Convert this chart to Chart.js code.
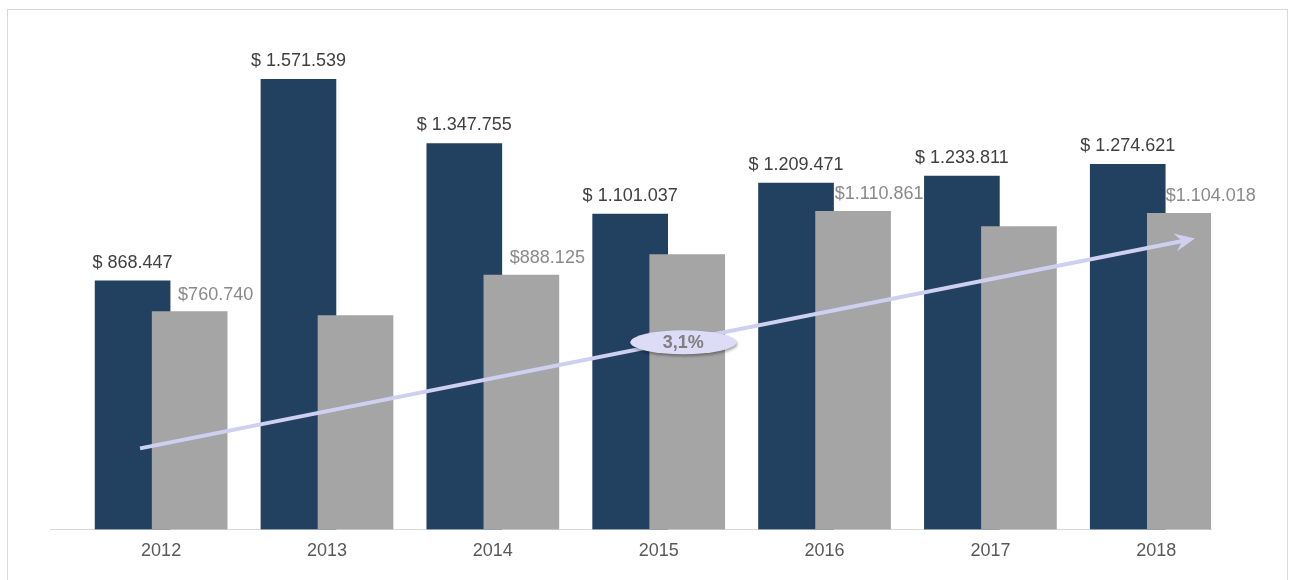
<!DOCTYPE html>
<html lang="es">
<head>
    <meta charset="UTF-8">
    <title>Ventas 2012 - 2018</title>
    <script src="https://cdn.jsdelivr.net/npm/chart.js"></script>
    <style>
        body {
            margin: 0;
            padding: 0;
            background-color: #fff;
            font-family: 'Liberation Sans', Arial, sans-serif;
        }

        .frame {
            position: absolute;
            left: 7px;
            top: 9px;
            width: 1279px;
            height: 575px;
            border: 1px solid #d9d9d9;
        }

        .chart-container {
            position: absolute;
            left: 0;
            top: 0;
            width: 1289px;
            height: 580px;
        }
    </style>
</head>
<body>
    <div class="frame"></div>
    <div class="chart-container">
        <canvas id="salesChart" width="1289" height="580"></canvas>
    </div>

    <script>
        const years = ['2012', '2013', '2014', '2015', '2016', '2017', '2018'];
        const darkValues = [868447, 1571539, 1347755, 1101037, 1209471, 1233811, 1274621];
        const grayValues = [760740, 747000, 888125, 960000, 1110861, 1058000, 1104018];
        const darkLabels = ['$ 868.447', '$ 1.571.539', '$ 1.347.755', '$ 1.101.037', '$ 1.209.471', '$ 1.233.811', '$ 1.274.621'];
        const grayLabels = ['$760.740', '', '$888.125', '', '$1.110.861', '', '$1.104.018'];

        // flecha de tendencia, en unidades del gráfico (índice de año, valor)
        const trendStart = [-0.127, 283000];
        const trendEnd = [6.233, 1016000];
        const trendText = '3,1%';

        const darkColor = '#22405f';
        const grayColor = '#a5a5a5';
        const arrowColor = '#cfcff2';
        const barShift = 0.172;   // las barras se solapan un poco

        const barLabels = {
            id: 'barLabels',
            afterDatasetsDraw(chart) {
                const ctx = chart.ctx;
                ctx.save();
                ctx.font = '18px "Liberation Sans", Arial, sans-serif';
                ctx.textAlign = 'center';
                ctx.textBaseline = 'middle';
                chart.getDatasetMeta(0).data.forEach((bar, i) => {
                    ctx.fillStyle = '#404040';
                    ctx.fillText(darkLabels[i], bar.x, bar.y - 18);
                });
                chart.getDatasetMeta(1).data.forEach((bar, i) => {
                    if (!grayLabels[i]) return;
                    ctx.fillStyle = '#8a8a8a';
                    ctx.fillText(grayLabels[i], bar.x + 26, bar.y - 17);
                });
                ctx.restore();
            }
        };

        const trendArrow = {
            id: 'trendArrow',
            afterDraw(chart) {
                const ctx = chart.ctx;
                const xs = chart.scales.x;
                const ys = chart.scales.y;
                const x1 = xs.getPixelForValue(trendStart[0]);
                const y1 = ys.getPixelForValue(trendStart[1]);
                const x2 = xs.getPixelForValue(trendEnd[0]);
                const y2 = ys.getPixelForValue(trendEnd[1]);
                const ang = Math.atan2(y2 - y1, x2 - x1);

                ctx.save();
                ctx.strokeStyle = arrowColor;
                ctx.lineWidth = 4;
                ctx.beginPath();
                ctx.moveTo(x1, y1);
                ctx.lineTo(x2 - 10 * Math.cos(ang), y2 - 10 * Math.sin(ang));
                ctx.stroke();

                // punta
                ctx.translate(x2, y2);
                ctx.rotate(ang);
                ctx.fillStyle = arrowColor;
                ctx.beginPath();
                ctx.moveTo(0, 0);
                ctx.lineTo(-20, -9);
                ctx.lineTo(-13, 0);
                ctx.lineTo(-20, 9);
                ctx.closePath();
                ctx.fill();
                ctx.restore();

                // etiqueta ovalada
                const t = 0.515;
                const cx = x1 + (x2 - x1) * t;
                const cy = y1 + (y2 - y1) * t + 2;
                ctx.save();
                ctx.shadowColor = 'rgba(0, 0, 0, 0.35)';
                ctx.shadowBlur = 3;
                ctx.shadowOffsetX = 1;
                ctx.shadowOffsetY = 2;
                ctx.fillStyle = '#dcdcf6';
                ctx.beginPath();
                ctx.ellipse(cx, cy, 53, 12, 0, 0, Math.PI * 2);
                ctx.fill();
                ctx.restore();

                ctx.save();
                ctx.font = 'bold 18px "Liberation Sans", Arial, sans-serif';
                ctx.fillStyle = '#7f7f7f';
                ctx.textAlign = 'center';
                ctx.textBaseline = 'middle';
                ctx.fillText(trendText, cx, cy + 1);
                ctx.restore();
            }
        };

        const ctx = document.getElementById('salesChart').getContext('2d');
        new Chart(ctx, {
            type: 'bar',
            data: {
                datasets: [
                    {
                        label: 'Serie 1',
                        data: darkValues.map((v, i) => ({ x: i - barShift, y: v })),
                        backgroundColor: darkColor,
                        barThickness: 75,
                        order: 1
                    },
                    {
                        label: 'Serie 2',
                        data: grayValues.map((v, i) => ({ x: i + barShift, y: v })),
                        backgroundColor: grayColor,
                        barThickness: 75,
                        order: 0
                    }
                ]
            },
            options: {
                responsive: false,
                animation: false,
                layout: {
                    padding: { left: 50, right: 78, top: 14, bottom: 7 }
                },
                datasets: {
                    bar: { grouped: false }
                },
                plugins: {
                    legend: { display: false },
                    tooltip: { enabled: false }
                },
                scales: {
                    x: {
                        type: 'linear',
                        min: -0.67,
                        max: 6.33,
                        offset: false,
                        grid: { display: false, drawTicks: false, offset: false },
                        border: { display: true, color: '#d9d9d9', width: 1 },
                        afterBuildTicks: scale => {
                            scale.ticks = years.map((y, i) => ({ value: i }));
                        },
                        ticks: {
                            padding: 11,
                            maxRotation: 0,
                            autoSkip: false,
                            color: '#595959',
                            font: { size: 18, family: '"Liberation Sans", Arial, sans-serif' },
                            callback: value => years[value] || ''
                        }
                    },
                    y: {
                        display: false,
                        min: 0,
                        max: 1800000
                    }
                }
            },
            plugins: [barLabels, trendArrow]
        });
    </script>
</body>
</html>
